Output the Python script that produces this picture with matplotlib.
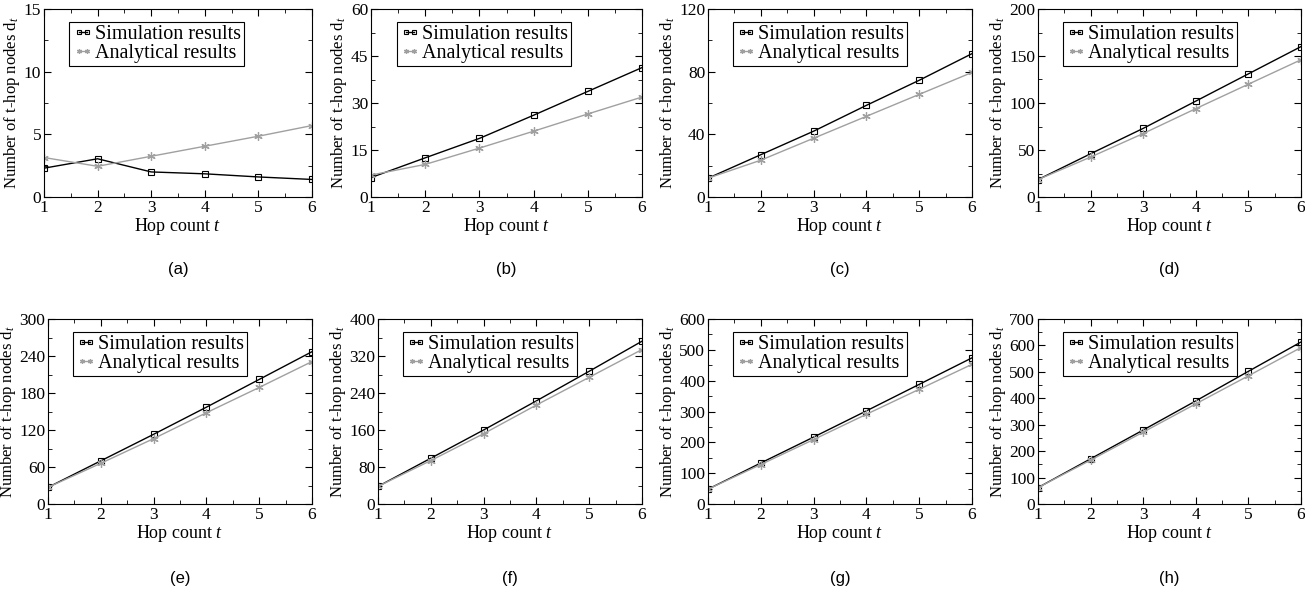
import numpy as np
import matplotlib
matplotlib.use("Agg")
import matplotlib.pyplot as plt
from matplotlib.ticker import MultipleLocator, AutoMinorLocator

plt.rcParams['font.family'] = 'Liberation Serif'
plt.rcParams['mathtext.fontset'] = 'custom'
plt.rcParams['mathtext.rm'] = 'Liberation Serif'
plt.rcParams['mathtext.it'] = 'Liberation Serif:italic'

# hop count
hops = [1, 2, 3, 4, 5, 6]

# data
sim_a = [2.3, 3.05, 2.0, 1.85, 1.6, 1.4]
ana_a = [3.15, 2.45, 3.25, 4.05, 4.85, 5.7]
sim_b = [6.2, 12.5, 18.7, 26.1, 33.7, 41.3]
ana_b = [7.0, 10.4, 15.6, 21.0, 26.5, 31.9]
sim_c = [12, 27, 42, 58.5, 74.5, 91.5]
ana_c = [12, 23.5, 37.5, 51.5, 65.5, 79.5]
sim_d = [18.5, 46, 73, 102, 131, 160]
ana_d = [18.5, 42.5, 67.5, 94, 120, 146]
sim_e = [27, 70, 113, 157, 202, 247]
ana_e = [27, 66, 106, 148, 189, 231]
sim_f = [38, 99, 160, 223, 287, 352]
ana_f = [38, 94, 152, 214, 274, 334]
sim_g = [48, 133, 217, 302, 388, 474]
ana_g = [48, 128, 209, 291, 372, 453]
sim_h = [62, 171, 280, 390, 502, 613]
ana_h = [62, 166, 272, 379, 485, 592]

sims = [sim_a, sim_b, sim_c, sim_d, sim_e, sim_f, sim_g, sim_h]
anas = [ana_a, ana_b, ana_c, ana_d, ana_e, ana_f, ana_g, ana_h]
ymaxs = [15, 60, 120, 200, 300, 400, 600, 700]
ysteps = [5, 15, 40, 50, 60, 80, 100, 100]
tags = ['(a)', '(b)', '(c)', '(d)', '(e)', '(f)', '(g)', '(h)']

W, H = 1305, 598
fig = plt.figure(figsize=(W / 100, H / 100), dpi=100)

# axes boxes in pixels: left, right
top_cols = [(44, 312), (371, 642), (708, 972), (1038, 1301)]
bot_cols = [(48, 312), (378, 642), (708, 972), (1038, 1301)]
rows = [(9, 197), (319, 504)]

for i in range(8):
    r = i // 4
    c = i % 4
    x0, x1 = (top_cols if r == 0 else bot_cols)[c]
    y0, y1 = rows[r]
    ax = fig.add_axes([x0 / W, 1 - y1 / H, (x1 - x0) / W, (y1 - y0) / H])

    ax.plot(hops, sims[i], color='black', lw=1.0, marker='s', ms=5,
            mfc='none', mec='black', mew=0.8, label='Simulation results')
    ax.plot(hops, anas[i], color='#a0a0a0', lw=1.0, marker=(6, 2, 0), ms=6,
            mec='#a0a0a0', mew=0.9, label='Analytical results')

    ax.set_xlim(1, 6)
    ax.set_ylim(0, ymaxs[i])
    ax.xaxis.set_major_locator(MultipleLocator(1))
    ax.yaxis.set_major_locator(MultipleLocator(ysteps[i]))
    ax.xaxis.set_minor_locator(AutoMinorLocator(2))
    ax.yaxis.set_minor_locator(AutoMinorLocator(2))
    ax.tick_params(which='both', direction='in', top=True, right=True,
                   labelsize=12.5, pad=2)
    ax.tick_params(which='major', length=5)
    ax.tick_params(which='minor', length=3)
    for s in ax.spines.values():
        s.set_linewidth(0.8)

    ax.set_xlabel('Hop count $t$', fontsize=13, labelpad=0)
    ax.set_ylabel('Number of t-hop nodes d$_t$', fontsize=12, labelpad=1)

    leg = ax.legend(loc='upper left', bbox_to_anchor=(0.095, 0.93),
                    borderaxespad=0, fancybox=False, framealpha=1,
                    edgecolor='black', fontsize=14.5, handlelength=1.0,
                    handletextpad=0.1, labelspacing=0.0, borderpad=0.15,
                    numpoints=2, markerscale=0.6)
    leg.get_frame().set_linewidth(0.8)

    cx = (x0 + x1) / 2
    cy = 270 if r == 0 else 578
    fig.text(cx / W, 1 - cy / H, tags[i], ha='center', va='center',
             fontsize=12, family='Liberation Sans')

fig.savefig('out.png', dpi=100)
